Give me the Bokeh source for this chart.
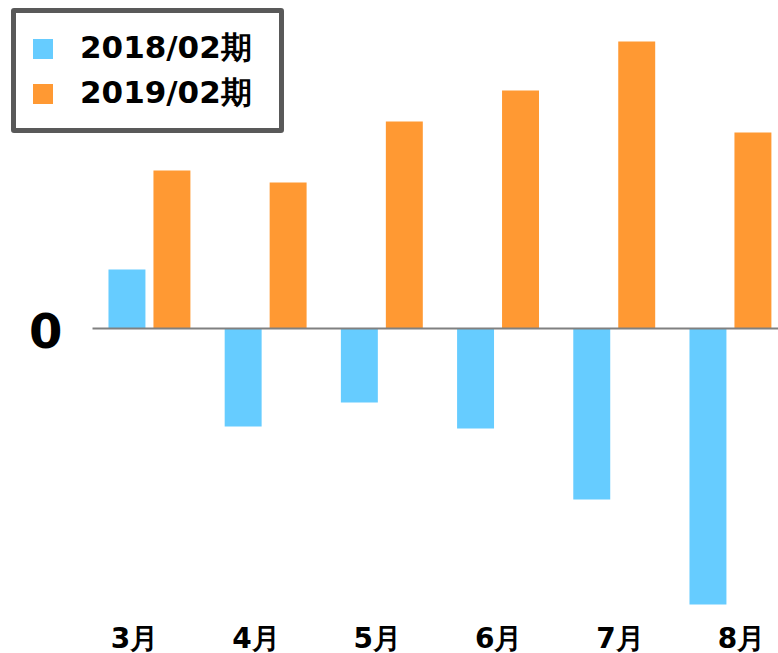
from bokeh.plotting import figure
from bokeh.models import (ColumnDataSource, Range1d, LinearAxis, FixedTicker,
                          Legend, LegendItem, Label)
from bokeh.transform import dodge
from bokeh.embed import file_html
from bokeh.resources import INLINE
import numpy as np

months = ["3月", "4月", "5月", "6月", "7月", "8月"]
series_names = ["2018/02期", "2019/02期"]
values_2018 = [59, -98, -74, -100, -171, -276]
values_2019 = [158, 146, 207, 238, 287, 196]

BLUE = "#66CCFF"
ORANGE = "#FF9933"
FONT = "DejaVu Sans"

idx = np.arange(len(months))
src = ColumnDataSource(dict(x=idx, a=values_2018, b=values_2019))

p = figure(frame_width=778, frame_height=605, min_border_left=0, min_border_right=0,
           min_border_top=0, min_border_bottom=48,
           x_range=Range1d(-1.2823, 5.4131), y_range=Range1d(-277, 328),
           output_backend="svg", toolbar_location=None, x_axis_location=None,
           y_axis_location=None)
p.outline_line_color = None
p.xgrid.visible = False
p.ygrid.visible = False
p.background_fill_color = "white"
p.border_fill_color = "white"

r1 = p.vbar(x=dodge("x", -0.194), width=0.318, bottom=0, top="a",
            source=src, fill_color=BLUE, line_color=None)
r2 = p.vbar(x=dodge("x", 0.193), width=0.318, bottom=0, top="b",
            source=src, fill_color=ORANGE, line_color=None)

# zero baseline (starts where the category area begins)
p.segment(x0=[-0.4905], x1=[5.42], y0=[0], y1=[0], line_color="#808080", line_width=2)

# the single value label "0"
p.add_layout(Label(x=62, x_units="screen", y=0, text="0", text_align="right",
                   text_baseline="middle", text_font=FONT, text_font_style="bold",
                   text_font_size="48px", text_color="black", y_offset=-2))

# bottom month labels
p.extra_x_ranges = {"lab": Range1d(-1.1038, 5.3048)}
xax = LinearAxis(x_range_name="lab", ticker=FixedTicker(ticks=list(idx)))
xax.major_label_overrides = {int(i): m for i, m in zip(idx, months)}
xax.axis_line_color = None
xax.major_tick_line_color = None
xax.minor_tick_line_color = None
xax.major_label_standoff = 10
xax.major_label_text_font = FONT
xax.major_label_text_font_style = "bold"
xax.major_label_text_font_size = "28px"
xax.major_label_text_color = "black"
p.add_layout(xax, "below")

legend = Legend(items=[LegendItem(label=series_names[0], renderers=[r1]),
                       LegendItem(label=series_names[1], renderers=[r2])],
                location=(11, 472))
legend.border_line_color = "#595959"
legend.border_line_alpha = 1
legend.border_line_width = 5
legend.border_radius = 3
legend.padding = 14
legend.spacing = 3
legend.glyph_width = 25
legend.glyph_height = 25
legend.label_standoff = 25
legend.label_width = 185
legend.label_text_font = FONT
legend.label_text_font_style = "bold"
legend.label_text_font_size = "31px"
legend.label_text_color = "black"
legend.background_fill_alpha = 1
p.add_layout(legend, "center")

open("out.html", "w").write(file_html(p, INLINE))
